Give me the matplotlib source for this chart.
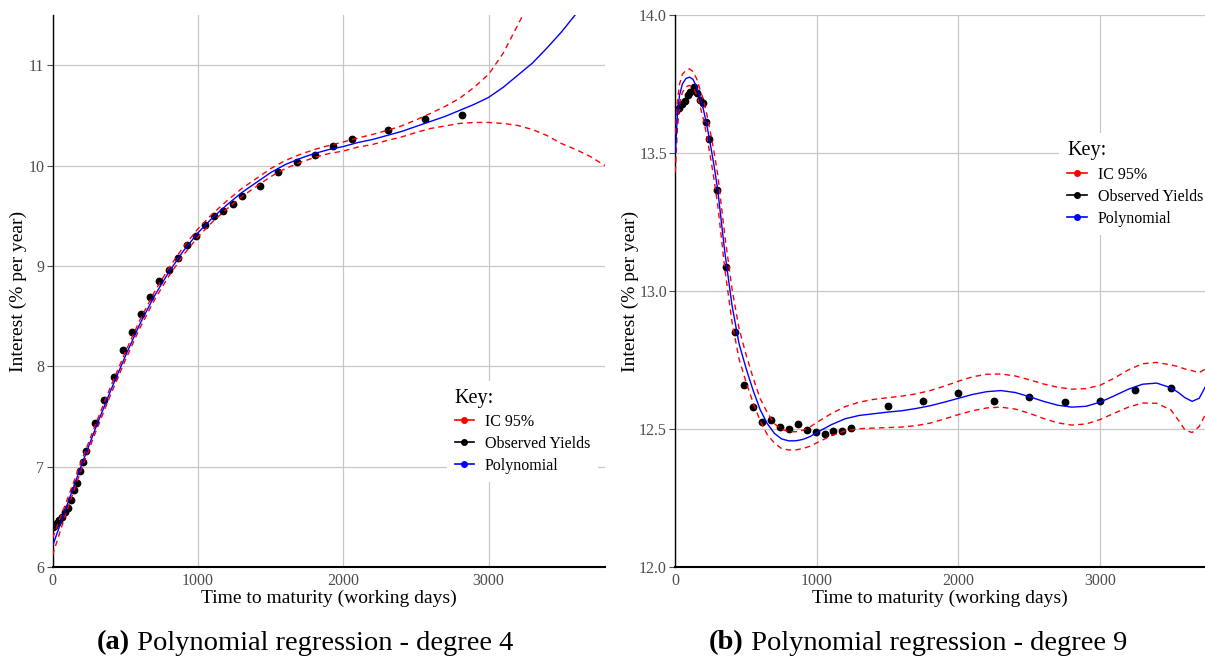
import matplotlib
matplotlib.use("Agg")
import matplotlib.pyplot as plt
from matplotlib.lines import Line2D

plt.rcParams["font.family"] = ["Liberation Serif", "DejaVu Serif"]

RED = "#ff0000"
BLUE = "#0000ff"
GRID = "#c8c8c8"
TICKCOL = "#4d4d4d"

# ---- panel (a): polynomial degree 4 ----
obs_x_a = [5, 13, 29, 47, 67, 86, 107, 127, 147, 168, 189, 210, 231, 294, 357, 420,
           483, 546, 609, 672, 735, 798, 861, 924, 987, 1050, 1113, 1176, 1239, 1302,
           1428, 1554, 1680, 1806, 1932, 2058, 2310, 2562, 2814]
obs_y_a = [6.40, 6.41, 6.44, 6.47, 6.50, 6.55, 6.59, 6.67, 6.77, 6.84, 6.96, 7.05, 7.16,
           7.44, 7.67, 7.90, 8.16, 8.34, 8.52, 8.69, 8.85, 8.96, 9.08, 9.21, 9.30, 9.41,
           9.50, 9.55, 9.62, 9.70, 9.80, 9.94, 10.04, 10.11, 10.20, 10.27, 10.35, 10.46,
           10.50]

curve_x_a = [0, 100, 200, 300, 400, 500, 600, 700, 800, 900, 1000, 1100, 1200, 1300,
             1400, 1500, 1600, 1700, 1800, 1900, 2000, 2100, 2200, 2300, 2400, 2500,
             2600, 2700, 2800, 2900, 3000, 3100, 3200, 3300, 3400, 3500, 3600, 3700, 3800]
fit_a = [6.21, 6.62, 7.02, 7.40, 7.76, 8.10, 8.42, 8.70, 8.94, 9.15, 9.33, 9.48, 9.61,
         9.73, 9.83, 9.93, 10.01, 10.07, 10.12, 10.16, 10.19, 10.23, 10.26, 10.30, 10.34,
         10.39, 10.44, 10.49, 10.55, 10.61, 10.68, 10.78, 10.90, 11.02, 11.17, 11.33,
         11.51, 11.71, 11.93]
hi_a = [6.29, 6.67, 7.06, 7.44, 7.80, 8.14, 8.46, 8.74, 8.98, 9.19, 9.37, 9.52, 9.65,
        9.77, 9.87, 9.97, 10.05, 10.11, 10.16, 10.20, 10.235, 10.275, 10.31, 10.35,
        10.395, 10.455, 10.52, 10.59, 10.67, 10.78, 10.91, 11.12, 11.40, 11.68, 12.03,
        12.40, 12.85, 13.30, 13.90]
lo_a = [6.12, 6.57, 6.98, 7.36, 7.72, 8.06, 8.38, 8.66, 8.90, 9.11, 9.29, 9.44, 9.57,
        9.69, 9.79, 9.89, 9.97, 10.03, 10.08, 10.12, 10.145, 10.185, 10.21, 10.25,
        10.285, 10.33, 10.37, 10.395, 10.42, 10.43, 10.43, 10.42, 10.40, 10.36, 10.30,
        10.22, 10.16, 10.09, 10.00]

# ---- panel (b): polynomial degree 9 ----
obs_x_b = [8, 27, 48, 67, 88, 107, 129, 155, 177, 198, 216, 237, 298, 357, 425, 488,
           551, 613, 676, 739, 802, 865, 928, 991, 1054, 1117, 1180, 1243, 1500, 1750,
           2000, 2250, 2500, 2750, 3000, 3250, 3500]
obs_y_b = [13.653, 13.663, 13.679, 13.690, 13.711, 13.721, 13.738, 13.716, 13.692,
           13.682, 13.612, 13.551, 13.366, 13.088, 12.852, 12.661, 12.582, 12.526,
           12.532, 12.507, 12.501, 12.520, 12.496, 12.489, 12.484, 12.493, 12.495,
           12.504, 12.585, 12.604, 12.630, 12.604, 12.618, 12.597, 12.604, 12.641,
           12.651]

curve_x_b = [0, 15, 30, 50, 75, 100, 125, 150, 175, 200, 225, 250, 275, 300, 350, 400,
             450, 500, 550, 600, 650, 700, 750, 800, 850, 900, 950, 1000, 1100, 1200,
             1300, 1400, 1500, 1600, 1700, 1800, 1900, 2000, 2100, 2200, 2300, 2400,
             2500, 2600, 2700, 2800, 2900, 3000, 3100, 3200, 3300, 3400, 3500, 3550,
             3600, 3650, 3700, 3750]
fit_b = [13.50, 13.64, 13.71, 13.75, 13.77, 13.775, 13.767, 13.74, 13.70, 13.655,
         13.595, 13.525, 13.45, 13.365, 13.14, 12.95, 12.81, 12.72, 12.64, 12.57, 12.52,
         12.485, 12.465, 12.458, 12.458, 12.463, 12.473, 12.488, 12.516, 12.538, 12.550,
         12.556, 12.562, 12.567, 12.575, 12.585, 12.598, 12.612, 12.626, 12.636, 12.640,
         12.633, 12.618, 12.601, 12.587, 12.580, 12.583, 12.598, 12.621, 12.645, 12.663,
         12.667, 12.650, 12.634, 12.614, 12.601, 12.612, 12.660]
hi_b = [13.57, 13.69, 13.75, 13.785, 13.80, 13.805, 13.795, 13.77, 13.73, 13.69, 13.635,
        13.57, 13.50, 13.42, 13.20, 13.01, 12.865, 12.77, 12.685, 12.61, 12.56, 12.52,
        12.50, 12.491, 12.491, 12.496, 12.508, 12.525, 12.556, 12.582, 12.598, 12.608,
        12.614, 12.620, 12.628, 12.640, 12.656, 12.674, 12.690, 12.699, 12.700, 12.693,
        12.679, 12.664, 12.652, 12.645, 12.647, 12.659, 12.685, 12.715, 12.737, 12.742,
        12.733, 12.727, 12.718, 12.712, 12.705, 12.720]
lo_b = [13.43, 13.59, 13.675, 13.72, 13.74, 13.745, 13.739, 13.712, 13.67, 13.62,
        13.555, 13.48, 13.40, 13.31, 13.08, 12.89, 12.755, 12.67, 12.595, 12.53, 12.48,
        12.45, 12.43, 12.425, 12.425, 12.43, 12.438, 12.451, 12.476, 12.494, 12.502,
        12.504, 12.506, 12.508, 12.513, 12.522, 12.537, 12.553, 12.567, 12.577, 12.580,
        12.573, 12.558, 12.539, 12.523, 12.515, 12.519, 12.535, 12.558, 12.580, 12.595,
        12.594, 12.570, 12.535, 12.497, 12.488, 12.510, 12.560]

xticks = [0, 1000, 2000, 3000]
yticks_a = [6, 7, 8, 9, 10, 11]
yticks_b = [12.0, 12.5, 13.0, 13.5, 14.0]
legend_labels = ["IC 95%", "Observed Yields", "Polynomial"]

W, H = 1205, 658


def style_axes(ax, xlim, ylim, yticks, ylabels):
    ax.set_xlim(*xlim)
    ax.set_ylim(*ylim)
    ax.set_xticks(xticks)
    ax.set_xticklabels([str(t) for t in xticks])
    ax.set_yticks(yticks)
    ax.set_yticklabels(ylabels)
    ax.grid(True, color=GRID, lw=0.9)
    ax.set_axisbelow(True)
    for side in ("top", "right"):
        ax.spines[side].set_visible(False)
    ax.spines["left"].set_color("black")
    ax.spines["left"].set_linewidth(1.0)
    ax.spines["bottom"].set_color("black")
    ax.spines["bottom"].set_linewidth(1.5)
    ax.tick_params(axis="y", length=4, width=0.8, color=TICKCOL, labelcolor=TICKCOL,
                   labelsize=11.5, pad=2)
    ax.tick_params(axis="x", length=0, labelcolor=TICKCOL, labelsize=11.5, pad=4)
    ax.set_xlabel("Time to maturity (working days)", fontsize=14)
    ax.set_ylabel("Interest (% per year)", fontsize=14)


def draw_panel(ax, ox, oy, cx, fit, hi, lo):
    ax.plot(ox, oy, "o", color="black", ms=4.6, zorder=2)
    for band in (hi, lo):
        ax.plot(cx, band, color=RED, lw=1.0, dashes=(4, 3), zorder=3)
    ax.plot(cx, fit, color=BLUE, lw=1.0, zorder=4)


def draw_legend(ax, anchor):
    handles = [Line2D([], [], color=c, marker="o", ms=4, lw=1.2)
               for c in (RED, "black", BLUE)]
    leg = ax.legend(handles, legend_labels, title="Key:", loc="upper left",
                    bbox_to_anchor=anchor, fontsize=11.5, title_fontsize=14.5,
                    handlelength=1.2, handletextpad=0.7, labelspacing=0.38,
                    borderpad=0.5, alignment="left", frameon=True, fancybox=False)
    leg.get_frame().set_facecolor("white")
    leg.get_frame().set_edgecolor("none")
    leg.get_frame().set_alpha(1)
    leg.set_zorder(10)


def draw_caption(fig, xc, yc, tag, rest, size=20.5):
    renderer = fig.canvas.get_renderer()
    bold = fig.text(0, yc, tag, fontsize=size, weight="bold", va="center")
    plain = fig.text(0, yc, " " + rest, fontsize=size, va="center")
    wb = bold.get_window_extent(renderer).width
    wp = plain.get_window_extent(renderer).width
    x0 = xc * fig.bbox.width - (wb + wp) / 2
    bold.set_x(x0 / fig.bbox.width)
    plain.set_x((x0 + wb) / fig.bbox.width)


fig = plt.figure(figsize=(W / 100, H / 100), dpi=100)

# pixel geometry of the two plotting areas
top, bottom = 15, 567.3
ax_a = fig.add_axes([52.5 / W, (H - bottom) / H, (605 - 52.5) / W, (bottom - top) / H])
ax_b = fig.add_axes([675.3 / W, (H - bottom) / H, (W - 675.3) / W, (bottom - top) / H])

draw_panel(ax_a, obs_x_a, obs_y_a, curve_x_a, fit_a, hi_a, lo_a)
style_axes(ax_a, (0, 3800), (6, 11.5), yticks_a, [str(t) for t in yticks_a])
draw_legend(ax_a, (0.699, 0.352))

draw_panel(ax_b, obs_x_b, obs_y_b, curve_x_b, fit_b, hi_b, lo_b)
style_axes(ax_b, (0, 3741), (12, 14), yticks_b, [f"{t:.1f}" for t in yticks_b])
draw_legend(ax_b, (0.710, 0.800))

for ax, ylab_x in ((ax_a, 18), (ax_b, 630)):
    pos = ax.get_position()
    axw = pos.width * W
    axh = pos.height * H
    ax.xaxis.set_label_coords(0.5, -(598 - bottom) / axh)
    ax.xaxis.label.set_va("center")
    ax.yaxis.set_label_coords((ylab_x - pos.x0 * W) / axw, 0.5)
    ax.yaxis.label.set_va("center")

draw_caption(fig, 305 / W, (H - 643) / H, "(a)", "Polynomial regression - degree 4")
draw_caption(fig, 918 / W, (H - 643) / H, "(b)", "Polynomial regression - degree 9")

fig.savefig("out.png", dpi=100)
